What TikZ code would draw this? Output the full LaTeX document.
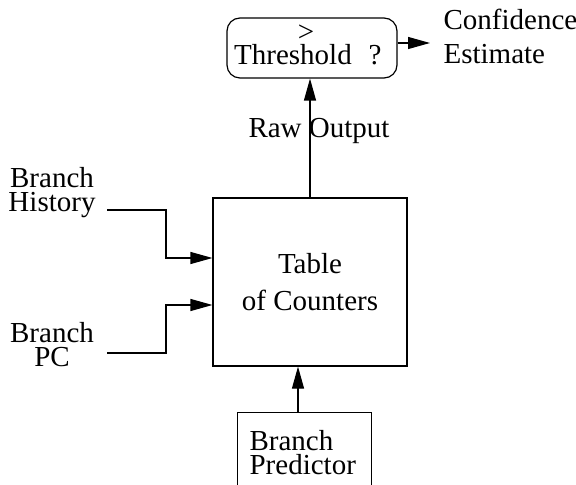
\documentclass[tikz,border=0pt]{standalone}
\usepackage{fontspec}
\setmainfont{Liberation Serif}
\usetikzlibrary{arrows.meta}
\begin{document}
\begin{tikzpicture}[x=0.5pt,y=-0.5pt,line width=0.6pt,
  txt/.style={inner sep=0pt, font=\fontsize{14.5}{12}\selectfont},
  txtwide/.style={inner sep=0pt, font=\fontsize{14.5}{17}\selectfont},
  txttab/.style={font=\fontsize{14.5}{18.5}\selectfont},
  arr/.style={-{Triangle[length=11pt,width=6pt]}},
  box/.style={draw, inner sep=0pt}]
\useasboundingbox (0,0) rectangle (576,485);

% Table of counters
\node[box, txttab, align=center, minimum width=97pt, minimum height=84pt] (tab) at (310,282) {Table\\of Counters};

% Threshold comparator
\node[box, rounded corners=6.5pt, minimum width=85pt, minimum height=30pt] (thr) at (312,48) {};
\node[txt, anchor=base] (gt) at (306,42) {>};
\node[txt, anchor=base] (th) at (293,65) {Threshold};
\node[txt, anchor=base] (q) at (375,65) {?};

% Confidence estimate
\node[txtwide, align=left, anchor=north west] (conf) at (443,8) {Confidence\\Estimate};
\coordinate (ce) at (430,43);
\draw[arr] ([yshift=2.5pt]thr.east) -- (ce);

% Raw output
\node[txt, anchor=base] (raw) at (319,138) {Raw Output};
\draw[arr] (tab.north) -- (tab.north |- thr.south);

% Branch history
\node[txt, align=center, anchor=north] (hist) at (52,167) {Branch\\History};
\coordinate (hstart) at (107,210);
\coordinate (hin) at ([yshift=12pt]tab.west);
\draw[arr] (hstart) -- (166,210) |- (hin);

% Branch PC
\node[txt, align=center, anchor=north] (pc) at (52,322) {Branch\\PC};
\coordinate (pstart) at (107,353);
\coordinate (pin) at ([yshift=-11.5pt]tab.west);
\draw[arr] (pstart) -- (166,353) |- (pin);

% Branch predictor
\node[minimum width=66.5pt, minimum height=36pt, inner sep=0pt] (pred) at (304.5,449) {};
\draw (pred.south west) |- (pred.north east) -- (pred.south east);
\node[txt, align=left, anchor=north west] (predtxt) at (249,430) {Branch\\Predictor};
\draw[arr] ([xshift=-3.25pt]pred.north) -- ([xshift=-3.25pt]pred.north |- tab.south);
\end{tikzpicture}
\end{document}
